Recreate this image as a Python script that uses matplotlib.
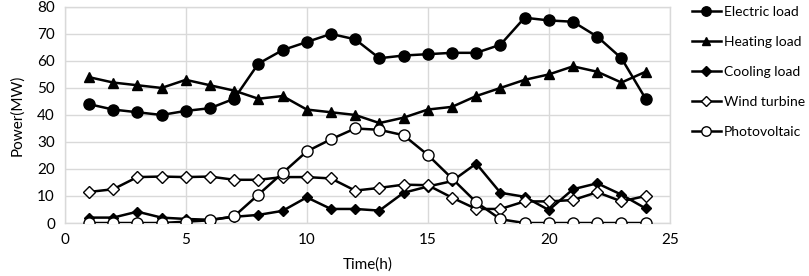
import matplotlib
matplotlib.use("Agg")
import matplotlib.pyplot as plt

hours = list(range(1, 25))

electric_load = [44, 42, 41, 40, 41.5, 42.5, 46, 59, 64, 67, 70, 68,
                 61, 62, 62.5, 63, 63, 66, 76, 75, 74.5, 69, 61, 46]
heating_load = [54, 52, 51, 50, 53, 51, 49, 46, 47, 42, 41, 40,
                37, 39, 42, 43, 47, 50, 53, 55, 58, 56, 52, 56]
cooling_load = [2, 2, 4.2, 2, 1.5, 1.2, 2.3, 3, 4.5, 9.5, 5.2, 5.2,
                4.6, 11.2, 13.5, 15.5, 22, 11.2, 9.7, 4.8, 12.5, 14.7, 10.5, 5.4]
wind_turbine = [11.5, 12.5, 17, 17.2, 17, 17.2, 16, 16, 17, 17, 16.5, 12,
                13, 14.2, 14, 9.4, 5.2, 5.2, 8, 8, 8.5, 11.4, 8, 10]
photovoltaic = [0, 0, 0, 0, 0.5, 1, 2.5, 10.5, 18.5, 26.5, 31, 35,
                34.5, 32.5, 25.2, 16.5, 7.7, 1.4, 0, 0, 0, 0, 0, 0]

labels = ["Electric load", "Heating load", "Cooling load", "Wind turbine", "Photovoltaic"]

plt.rcParams['font.family'] = ['Lato', 'DejaVu Sans']

fig = plt.figure(figsize=(8.09, 2.76), dpi=100)
ax = fig.add_axes([0.080, 0.192, 0.748, 0.783])

lw = 1.8
ax.plot(hours, electric_load, '-o', color='black', lw=lw, ms=8,
        mfc='black', mec='black', label=labels[0], zorder=3)
ax.plot(hours, heating_load, '-^', color='black', lw=lw, ms=7.5,
        mfc='black', mec='black', label=labels[1], zorder=3)
ax.plot(hours, cooling_load, '-D', color='black', lw=lw, ms=5.5,
        mfc='black', mec='black', label=labels[2], zorder=3)
ax.plot(hours, wind_turbine, '-D', color='black', lw=lw, ms=6,
        mfc='white', mec='black', mew=1.0, label=labels[3], zorder=3)
ax.plot(hours, photovoltaic, '-o', color='black', lw=lw, ms=8,
        mfc='white', mec='black', mew=1.0, label=labels[4], zorder=4)

ax.set_xlim(0, 25)
ax.set_ylim(0, 80)
ax.set_xticks(range(0, 26, 5))
ax.set_yticks(range(0, 81, 10))
ax.grid(True, color='#d9d9d9', lw=1.0, zorder=0)
for s in ax.spines.values():
    s.set_color('#d9d9d9')
    s.set_linewidth(1.0)
ax.tick_params(length=0, labelsize=11, pad=7)
ax.set_xlabel("Time(h)", fontsize=11, labelpad=8)
ax.set_ylabel("Power(MW)", fontsize=11, labelpad=9)

fig.legend(loc='upper left', bbox_to_anchor=(0.848, 1.0), frameon=False,
           fontsize=10, handlelength=2.1, handletextpad=0.2, markerscale=0.85,
           labelspacing=1.3, borderaxespad=0)

fig.savefig("out.png", dpi=100)
